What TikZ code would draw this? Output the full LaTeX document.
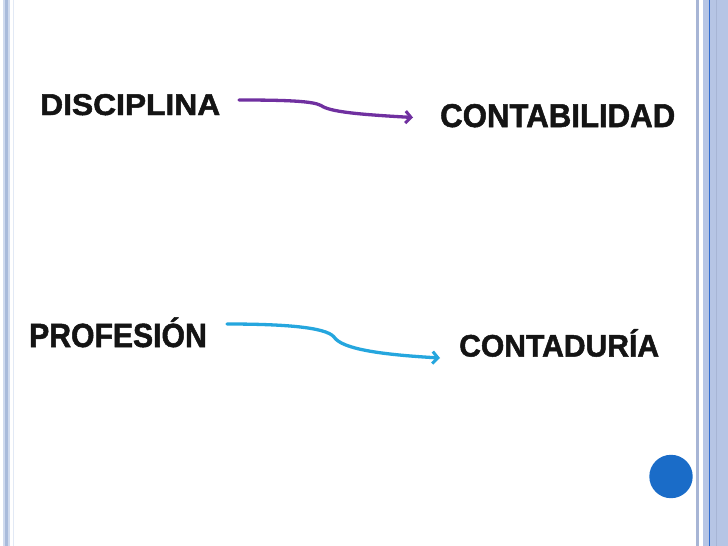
\documentclass[tikz,border=0pt]{standalone}
\usepackage{fontspec}
\setmainfont{Liberation Sans}[BoldFeatures={FakeBold=1.6}]
\usetikzlibrary{arrows.meta}
\definecolor{txt}{HTML}{141414}
\definecolor{purp}{HTML}{7030A0}
\definecolor{cyanar}{HTML}{25A6DE}
\definecolor{bandL}{HTML}{CFDAEE}
\definecolor{bandD}{HTML}{A9BBDB}
\definecolor{bandR}{HTML}{B6C5E5}
\definecolor{bandG}{HTML}{A7B5D5}
\definecolor{lineB}{HTML}{2F6BD0}
\definecolor{dotB}{HTML}{1A6CC8}
\tikzset{
  word/.style={anchor=base west, inner sep=0pt, text=txt, font=\bfseries},
  conn/.style={line width=3.3pt, line cap=round, -{Straight Barb[length=5.5pt,width=12pt,line width=3pt]}}
}
\begin{document}
\begin{tikzpicture}[x=1pt,y=-1pt]
\useasboundingbox (0,0) rectangle (728,546);
\fill[white] (0,0) rectangle (728,546);
% left border
\fill[bandL] (3,0) rectangle (10,546);
\fill[bandD] (4.5,0) rectangle (8.3,546);
\fill[bandL!60!white] (13,0) rectangle (14.2,546);
% right border
\fill[bandG] (696,0) rectangle (699,546);
\fill[bandR] (703,0) rectangle (728,546);
\fill[lineB] (709.3,0) rectangle (710.4,546);
\fill[bandG] (716,0) rectangle (717.3,546);
% circle
\fill[dotB] (671,476.5) circle (21.7);
% words
\node[word] (disc) at (40,115) {\resizebox{180pt}{21pt}{DISCIPLINA}};
\node[word] (cont) at (440,127) {\resizebox{235pt}{23pt}{CONTABILIDAD}};
\node[word] (prof) at (29,347) {\scalebox{0.9}[1]{\fontsize{33.5}{33.5}\selectfont PROFESIÓN}};
\node[word] (contad) at (459,356.5) {\scalebox{0.97}[1]{\fontsize{31}{31}\selectfont CONTADURÍA}};
% arrow anchors
\coordinate (a1) at (239,100);
\coordinate (b1) at (413,117.5);
\coordinate (a2) at (227,324);
\coordinate (b2) at (440,358);
\draw[conn, purp] (a1) .. controls (285,100) and (313,101) .. (321,105.5)
  .. controls (330,112) and (360,114.5) .. (b1);
\draw[conn, cyanar] (a2) .. controls (282,324) and (326,327) .. (334,337)
  .. controls (342,349) and (380,354.5) .. (b2);
\end{tikzpicture}
\end{document}
